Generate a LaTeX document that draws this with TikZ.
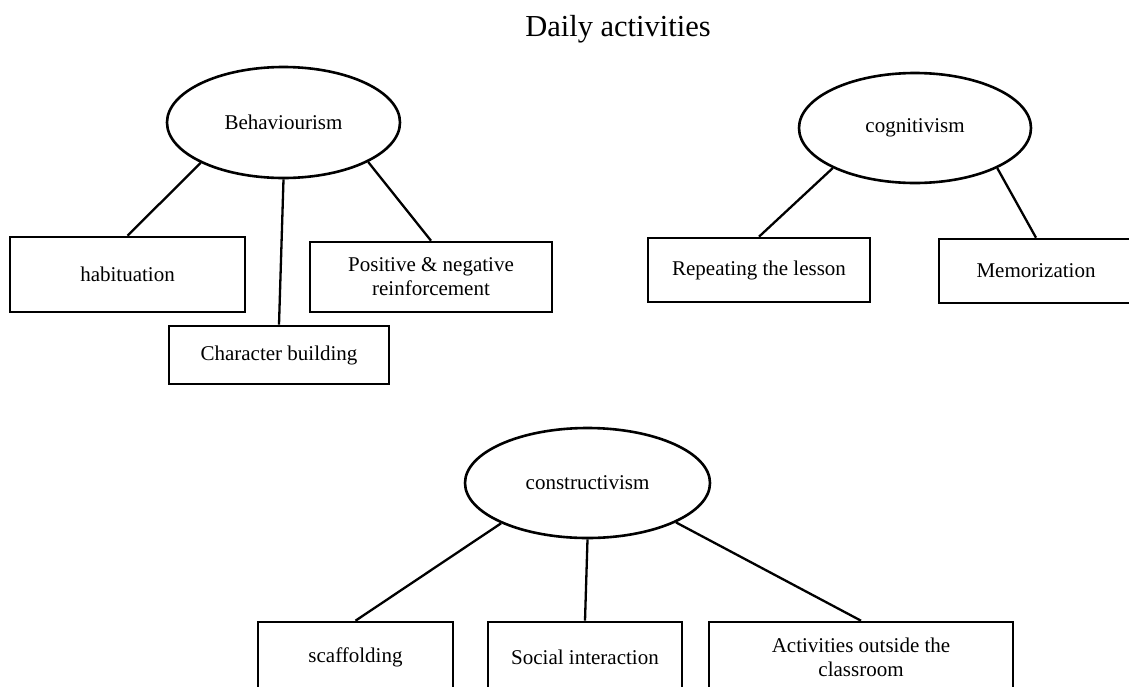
\documentclass[tikz,border=0pt]{standalone}
\usepackage{fontspec}
\setmainfont{Liberation Serif}
\usetikzlibrary{shapes.geometric}
\begin{document}
\begin{tikzpicture}[x=1pt,y=-1pt,
  every node/.style={font=\fontsize{21}{24}\selectfont, text=black},
  oval/.style={draw, ellipse, line width=2.6pt, inner sep=0pt},
  box/.style={draw, rectangle, line width=2.6pt, inner sep=0pt, align=center},
  link/.style={line width=2.3pt}]
\useasboundingbox (0,0) rectangle (1129,686);
\fill[white] (0,0) rectangle (1129,686);
\clip (0,0) rectangle (1129,686);
\node[anchor=base, font=\fontsize{30.5}{36}\selectfont] (title) at (618,36) {Daily activities};
% ellipses
\node[oval, minimum width=233pt, minimum height=111pt] (beh) at (283.5,122.5) {Behaviourism};
\node[oval, minimum width=232pt, minimum height=110pt] (cog) at (915,128) {cognitivism};
\node[oval, minimum width=245pt, minimum height=110pt] (con) at (587.5,483) {constructivism};
% boxes
\node[box, minimum width=235pt, minimum height=75pt] (hab) at (127.5,274.5) {habituation};
\node[box, minimum width=242pt, minimum height=70pt] (pos) at (431,277) {Positive \& negative\\reinforcement};
\node[box, minimum width=220pt, minimum height=58pt] (char) at (279,355) {Character building};
\node[box, minimum width=222pt, minimum height=64pt] (rep) at (759,270) {Repeating the lesson};
\node[box, minimum width=194pt, minimum height=64pt] (mem) at (1036,271) {Memorization};
\node[box, minimum width=195pt, minimum height=70pt] (scaf) at (355.5,657) {scaffolding};
\node[box, minimum width=194pt, minimum height=70pt] (soc) at (585,657) {Social interaction};
\node[box, minimum width=304pt, minimum height=70pt] (act) at (861,657) {Activities outside the\\classroom};
% connectors
\draw[link] (beh.206) -- (hab.north);
\draw[link] (beh.270) -- (char.north);
\draw[link] (beh.335) -- (pos.north);
\draw[link] (cog.206) -- (rep.north);
\draw[link] (cog.334) -- (mem.north);
\draw[link] (con.205) -- (scaf.north);
\draw[link] (con.270) -- (soc.north);
\draw[link] (con.336) -- (act.north);
\end{tikzpicture}
\end{document}
